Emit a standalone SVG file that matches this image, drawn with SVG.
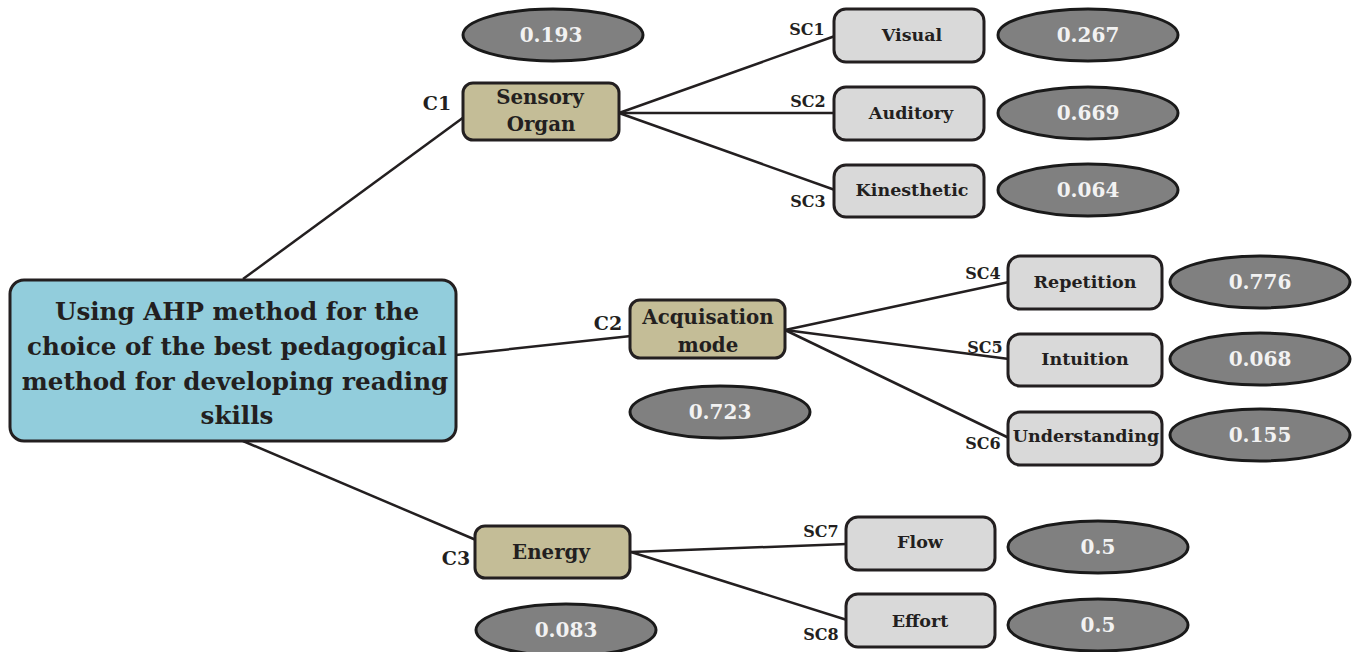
<svg xmlns="http://www.w3.org/2000/svg" width="1353" height="652" viewBox="0 0 1353 652">
<style>
text{font-family:"DejaVu Serif","Liberation Serif",serif;font-weight:bold;fill:#231f20;text-anchor:middle}
.main{fill:#92cddc;stroke:#231f20;stroke-width:3}
.crit{fill:#c4bd97;stroke:#231f20;stroke-width:3}
.sub{fill:#d9d9d9;stroke:#231f20;stroke-width:3}
.w{fill:#808080;stroke:#1a1a1a;stroke-width:3}
.wt{fill:#f2f2f2;font-size:20px}
.bt{font-size:19.8px}
.st{font-size:17.5px}
.lb{font-size:19px}
.sl{font-size:16px}
.mt{font-size:24.6px}
.cn line{stroke:#231f20;stroke-width:2.5}
</style>
<g class="cn" id="connectors">
<line x1="243" y1="279" x2="464" y2="117"/>
<line x1="456" y1="355" x2="631" y2="336"/>
<line x1="243" y1="441" x2="476" y2="540"/>
<line x1="619" y1="113" x2="835" y2="36"/>
<line x1="619" y1="113" x2="835" y2="113"/>
<line x1="619" y1="113" x2="835" y2="190"/>
<line x1="785" y1="330" x2="1009" y2="282"/>
<line x1="785" y1="330" x2="1009" y2="359"/>
<line x1="785" y1="330" x2="1009" y2="438"/>
<line x1="631" y1="552" x2="847" y2="544"/>
<line x1="631" y1="552" x2="847" y2="620"/>
</g>
<g id="root">
<rect class="main" x="10" y="280" width="446" height="161" rx="14"/>
<text class="mt" x="237" y="320">Using AHP method for the</text>
<text class="mt" x="237" y="355">choice of the best pedagogical</text>
<text class="mt" x="235" y="390">method for developing reading</text>
<text class="mt" x="237" y="424">skills</text>
</g>
<g id="c1">
<rect class="crit" x="463" y="83" width="156" height="57" rx="10"/>
<text class="bt" x="540" y="104">Sensory</text>
<text class="bt" x="541" y="131">Organ</text>
<text class="lb" x="437" y="110">C1</text>
</g>
<g id="w-c1"><ellipse class="w" cx="553" cy="35" rx="90" ry="26"/><text class="wt" x="551" y="42">0.193</text></g>
<g id="c2">
<rect class="crit" x="630" y="300" width="155" height="58" rx="10"/>
<text class="bt" x="708" y="324">Acquisation</text>
<text class="bt" x="708" y="352">mode</text>
<text class="lb" x="608" y="330">C2</text>
</g>
<g id="w-c2"><ellipse class="w" cx="720" cy="412" rx="90" ry="26"/><text class="wt" x="720" y="419">0.723</text></g>
<g id="c3">
<rect class="crit" x="475" y="526" width="155" height="52" rx="10"/>
<text class="bt" x="551" y="559">Energy</text>
<text class="lb" x="456" y="565">C3</text>
</g>
<g id="w-c3"><ellipse class="w" cx="566" cy="630" rx="90" ry="26"/><text class="wt" x="566" y="637">0.083</text></g>
<g id="sc1">
<rect class="sub" x="834" y="9" width="150" height="53" rx="12"/>
<text class="st" x="912" y="41">Visual</text>
<text class="sl" x="807" y="35">SC1</text>
</g>
<g id="w-sc1"><ellipse class="w" cx="1088" cy="35" rx="90" ry="26"/><text class="wt" x="1088" y="42">0.267</text></g>
<g id="sc2">
<rect class="sub" x="834" y="87" width="150" height="53" rx="12"/>
<text class="st" x="911" y="119">Auditory</text>
<text class="sl" x="808" y="107">SC2</text>
</g>
<g id="w-sc2"><ellipse class="w" cx="1088" cy="113" rx="90" ry="26"/><text class="wt" x="1088" y="120">0.669</text></g>
<g id="sc3">
<rect class="sub" x="834" y="165" width="150" height="52" rx="12"/>
<text class="st" x="912" y="196">Kinesthetic</text>
<text class="sl" x="808" y="207">SC3</text>
</g>
<g id="w-sc3"><ellipse class="w" cx="1088" cy="190" rx="90" ry="26"/><text class="wt" x="1088" y="197">0.064</text></g>
<g id="sc4">
<rect class="sub" x="1008" y="256" width="154" height="53" rx="12"/>
<text class="st" x="1085" y="288">Repetition</text>
<text class="sl" x="983" y="279">SC4</text>
</g>
<g id="w-sc4"><ellipse class="w" cx="1260" cy="282" rx="90" ry="26"/><text class="wt" x="1260" y="289">0.776</text></g>
<g id="sc5">
<rect class="sub" x="1008" y="334" width="154" height="52" rx="12"/>
<text class="st" x="1085" y="365">Intuition</text>
<text class="sl" x="985" y="353">SC5</text>
</g>
<g id="w-sc5"><ellipse class="w" cx="1260" cy="359" rx="90" ry="26"/><text class="wt" x="1260" y="366">0.068</text></g>
<g id="sc6">
<rect class="sub" x="1008" y="412" width="154" height="53" rx="12"/>
<text class="st" x="1086" y="442">Understanding</text>
<text class="sl" x="983" y="449">SC6</text>
</g>
<g id="w-sc6"><ellipse class="w" cx="1260" cy="435" rx="90" ry="26"/><text class="wt" x="1260" y="442">0.155</text></g>
<g id="sc7">
<rect class="sub" x="846" y="517" width="149" height="53" rx="12"/>
<text class="st" x="920" y="548">Flow</text>
<text class="sl" x="821" y="537">SC7</text>
</g>
<g id="w-sc7"><ellipse class="w" cx="1098" cy="547" rx="90" ry="26"/><text class="wt" x="1098" y="554">0.5</text></g>
<g id="sc8">
<rect class="sub" x="846" y="594" width="149" height="53" rx="12"/>
<text class="st" x="920" y="627">Effort</text>
<text class="sl" x="821" y="640">SC8</text>
</g>
<g id="w-sc8"><ellipse class="w" cx="1098" cy="625" rx="90" ry="26"/><text class="wt" x="1098" y="632">0.5</text></g>
</svg>
